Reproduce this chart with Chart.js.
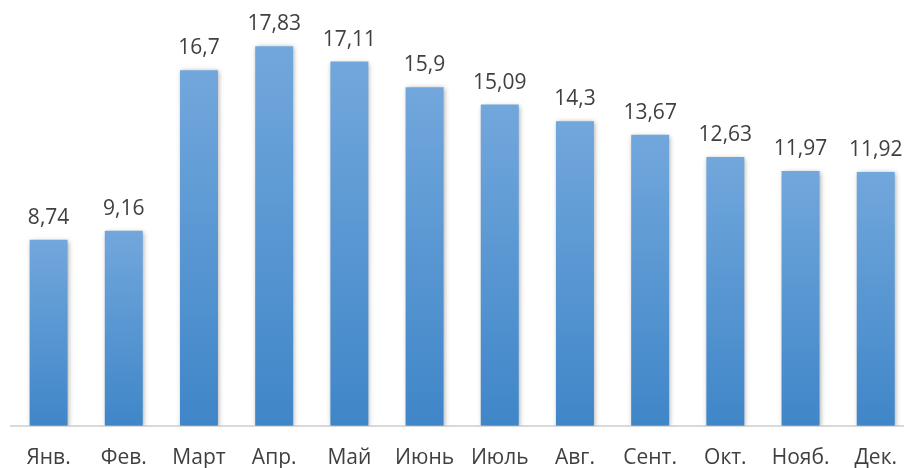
<!DOCTYPE html>
<html><head><meta charset="utf-8">
<script src="https://cdn.jsdelivr.net/npm/chart.js@4"></script>
<style>html,body{margin:0;padding:0;overflow:hidden;background:#fff}#wrap{width:917px;height:468px;position:relative}</style>
</head><body><div id="wrap"><canvas id="c"></canvas></div>
<script>
const categories = ["Янв.","Фев.","Март","Апр.","Май","Июнь","Июль","Авг.","Сент.","Окт.","Нояб.","Дек."];
const values = [8.74, 9.16, 16.7, 17.83, 17.11, 15.9, 15.09, 14.3, 13.67, 12.63, 11.97, 11.92];
const valueLabels = ["8,74","9,16","16,7","17,83","17,11","15,9","15,09","14,3","13,67","12,63","11,97","11,92"];

const FONT = '"Open Sans", sans-serif';

const shadowPlugin = {
  id: 'shadow',
  beforeDatasetDraw(chart) {
    const ctx = chart.ctx; ctx.save();
    ctx.shadowColor = 'rgba(0,0,0,0.35)'; ctx.shadowBlur = 5; ctx.shadowOffsetX = 1; ctx.shadowOffsetY = 1;
  },
  afterDatasetDraw(chart) { chart.ctx.restore(); }
};
const labelPlugin = {
  id: 'vlabels',
  afterDatasetsDraw(chart) {
    const ctx = chart.ctx; const meta = chart.getDatasetMeta(0);
    ctx.save(); ctx.font = '21px ' + FONT; ctx.fillStyle = '#404040';
    ctx.textAlign = 'center'; ctx.textBaseline = 'alphabetic';
    meta.data.forEach((bar, i) => { ctx.fillText(valueLabels[i], bar.x, bar.y - 16); });
    ctx.restore();
  }
};

new Chart(document.getElementById('c'), {
  type: 'bar',
  data: { labels: categories, datasets: [{
    data: values,
    backgroundColor(context) {
      const chart = context.chart; const area = chart.chartArea;
      if (!area) return '#5b9bd5';
      const v = context.raw; const y = chart.scales.y;
      const top = y.getPixelForValue(v), bot = y.getPixelForValue(0);
      const g = chart.ctx.createLinearGradient(0, top, 0, bot);
      g.addColorStop(0, '#72a7dc'); g.addColorStop(1, '#3f86c8');
      return g;
    },
    borderWidth: 0, categoryPercentage: 1, barPercentage: 0.505
  }]},
  options: {
    responsive: true, maintainAspectRatio: false, animation: false,
    layout: { padding: { left: 11, right: 0, top: 0, bottom: -23 } },
    plugins: { legend: { display: false }, tooltip: { enabled: false } },
    scales: {
      x: { grid: { display: false, drawTicks: false }, border: { display: true, color: '#d9d9d9', width: 2 },
           ticks: { color: '#404040', font: { family: FONT, size: 21 }, padding: 20, maxRotation: 0 } },
      y: { display: false, min: 0, max: 20 }
    }
  },
  plugins: [shadowPlugin, labelPlugin]
});
</script></body></html>
